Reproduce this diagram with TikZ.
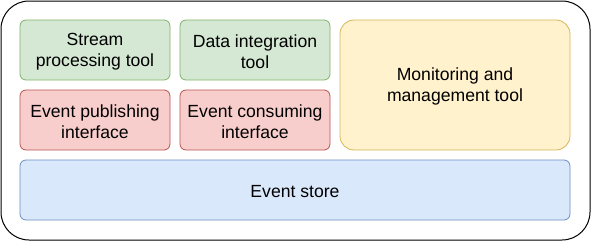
\documentclass[tikz,border=0pt]{standalone}
\usepackage{fontspec}
\setmainfont{Liberation Sans}
\definecolor{gfill}{HTML}{D5E8D4}\definecolor{gline}{HTML}{82B366}
\definecolor{rfill}{HTML}{F8CECC}\definecolor{rline}{HTML}{B85450}
\definecolor{yfill}{HTML}{FFF2CC}\definecolor{yline}{HTML}{D6B656}
\definecolor{bfill}{HTML}{DAE8FC}\definecolor{bline}{HTML}{6C8EBF}
\begin{document}
\begin{tikzpicture}[x=1pt,y=-1pt,
  box/.style={rounded corners=6pt,line width=0.8pt},
  lbl/.style={font=\fontsize{17.6}{20.5}\selectfont,align=center,text=black,inner sep=0pt,yshift=-1.5pt}]
\useasboundingbox (0,0) rectangle (591,241);
\draw[rounded corners=28pt,line width=1pt] (1,1) rectangle (590,240);
\draw[box,fill=gfill,draw=gline] (20,20) rectangle (170,80);
\node[lbl] (spt) at (95,50) {Stream\\processing tool};
\draw[box,fill=gfill,draw=gline] (180,20) rectangle (330,80);
\node[lbl] (dit) at (255,50) {Data integration\\tool};
\draw[box,fill=rfill,draw=rline] (20,90) rectangle (170,150);
\node[lbl] (epi) at (95,120) {Event publishing\\interface};
\draw[box,fill=rfill,draw=rline] (180,90) rectangle (330,150);
\node[lbl] (eci) at (255,120) {Event consuming\\interface};
\draw[box,rounded corners=14pt,fill=yfill,draw=yline] (340,20) rectangle (570,150);
\node[lbl] (mmt) at (455,85) {Monitoring and\\management tool};
\draw[box,fill=bfill,draw=bline] (20,160) rectangle (570,220);
\node[lbl] (es) at (295,190) {Event store};
\end{tikzpicture}
\end{document}
